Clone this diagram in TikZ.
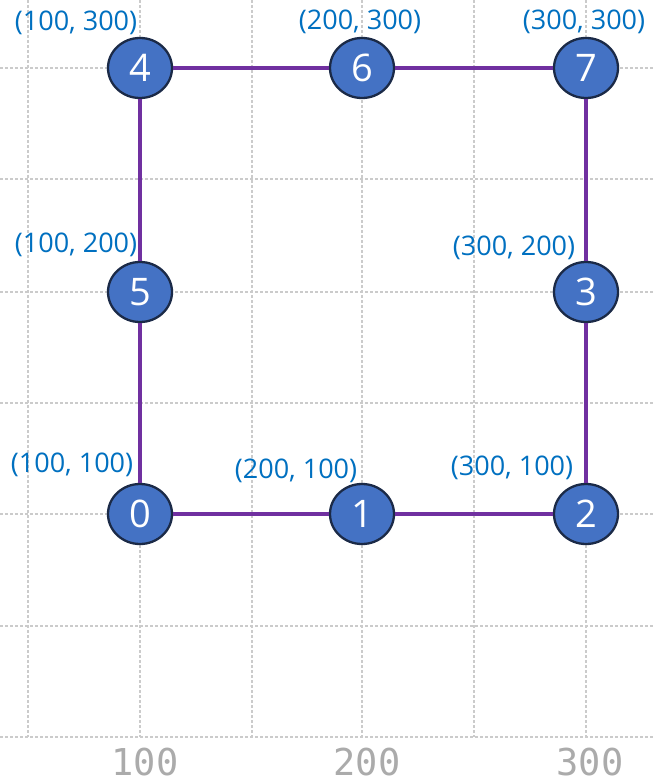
\documentclass[tikz,border=0pt]{standalone}
\usepackage{fontspec}
\setmainfont{Open Sans}
\newfontfamily\axisfont{DejaVu Sans Mono}
\usetikzlibrary{shapes.geometric}
\definecolor{nodefill}{HTML}{4472C4}
\definecolor{nodeline}{HTML}{1B2A47}
\definecolor{edgecol}{HTML}{7030A0}
\definecolor{labcol}{HTML}{0070C0}
\definecolor{gridcol}{HTML}{CBCBCB}
\definecolor{axiscol}{HTML}{ABABAB}
\tikzset{
  vtx/.style={ellipse, minimum width=64pt, minimum height=60pt, inner sep=0pt,
    fill=nodefill, draw=nodeline, line width=2.3pt, text=white,
    font=\fontsize{38}{40}\selectfont},
  coordlab/.style={text=labcol, inner sep=0pt, font=\fontsize{27}{30}\selectfont},
  axislab/.style={text=axiscol, inner sep=0pt, font=\axisfont\fontsize{37}{40}\selectfont},
  gridline/.style={gridcol, line width=2.4pt, dash pattern=on 3pt off 2pt},
  edge/.style={edgecol, line width=4.5pt}
}
\begin{document}
\begin{tikzpicture}[x=1pt, y=-1pt]
\useasboundingbox (0,0) rectangle (653,783);
\fill[white] (0,0) rectangle (653,783);
% grid
\foreach \gx in {28,140,252,362,474,586}
  \draw[gridline] (\gx,0) -- (\gx,737);
\foreach \gy in {68,179,292,403,514,626,737}
  \draw[gridline] (0,\gy) -- (653,\gy);
% nodes
\node[vtx] (n0) at (140,514) {0};
\node[vtx] (n1) at (362,514) {1};
\node[vtx] (n2) at (586,514) {2};
\node[vtx] (n3) at (586,292) {3};
\node[vtx] (n4) at (140,68) {4};
\node[vtx] (n5) at (140,292) {5};
\node[vtx] (n6) at (362,68) {6};
\node[vtx] (n7) at (586,68) {7};
% edges
\draw[edge] (n0) -- (n1);
\draw[edge] (n1) -- (n2);
\draw[edge] (n2) -- (n3);
\draw[edge] (n3) -- (n7);
\draw[edge] (n7) -- (n6);
\draw[edge] (n6) -- (n4);
\draw[edge] (n4) -- (n5);
\draw[edge] (n5) -- (n0);
% coordinate labels
\node[coordlab] (l4) at (76,23) {(100, 300)};
\node[coordlab] (l6) at (360,22) {(200, 300)};
\node[coordlab] (l7) at (584,22) {(300, 300)};
\node[coordlab] (l5) at (76,245) {(100, 200)};
\node[coordlab] (l3) at (514,248) {(300, 200)};
\node[coordlab] (l0) at (72,465) {(100, 100)};
\node[coordlab] (l1) at (296,471) {(200, 100)};
\node[coordlab] (l2) at (512,468) {(300, 100)};
% axis labels
\node[axislab] (a1) at (145,762) {100};
\node[axislab] (a2) at (367,762) {200};
\node[axislab] (a3) at (590,762) {300};
\end{tikzpicture}
\end{document}
